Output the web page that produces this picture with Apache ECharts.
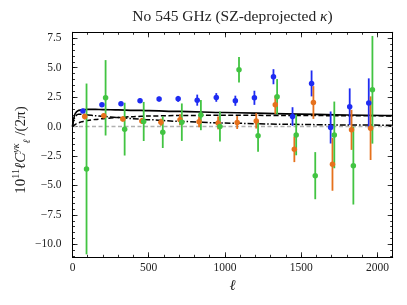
<!DOCTYPE html>
<html>
<head>
<meta charset="utf-8">
<script src="https://cdn.jsdelivr.net/npm/echarts@6/dist/echarts.min.js"></script>
<style>html,body{margin:0;padding:0;background:#fff;}#c{width:407px;height:305px;}</style>
</head>
<body>
<div id="c"></div>
<script>
// ---- data ----
const blueEll   = [68, 193, 318, 443, 568, 693, 818, 943, 1068, 1193, 1318, 1443, 1568, 1693, 1818, 1943];
const orangeEll = [80, 205, 330, 455, 580, 705, 830, 955, 1080, 1205, 1330, 1455, 1580, 1705, 1830, 1955];
const greenEll  = [92, 217, 342, 467, 592, 717, 842, 967, 1092, 1217, 1342, 1467, 1592, 1717, 1842, 1967];

const blueVal = [1.31, 1.85, 1.93, 2.19, 2.33, 2.35, 2.24, 2.47, 2.19, 2.44, 4.23, 0.85, 3.66, -0.08, 1.68, 1.99];
const blueErr = [0.15, 0.15, 0.15, 0.18, 0.2, 0.25, 0.47, 0.37, 0.43, 0.6, 0.64, 0.79, 1.1, 1.36, 1.56, 2.1];

const orangeVal = [0.85, 0.91, 0.65, 0.48, 0.37, 0.57, 0.40, 0.31, 0.34, 0.48, 1.85, -1.93, 2.04, -3.2, -0.28, -0.14];
const orangeErr = [0.25, 0.2, 0.22, 0.25, 0.3, 0.47, 0.45, 0.55, 0.55, 0.65, 0.78, 1.09, 1.39, 2.25, 1.7, 2.7];

const greenVal = [-3.6, 2.44, -0.22, 0.43, -0.48, 0.37, 0.97, 0.0, 4.82, -0.79, 2.53, -0.71, -4.17, -0.71, -3.32, 3.12];
const greenErr = [7.25, 3.2, 2.24, 1.66, 1.34, 1.59, 1.28, 1.28, 1.08, 1.35, 1.5, 1.73, 2.0, 2.83, 3.3, 4.57];

const modelEll     = [0, 5, 10, 15, 20, 30, 40, 60, 80, 100, 150, 200, 300, 400, 500, 700, 1000, 1400, 1800, 2100];
const modelSolid   = [0, 0.45, 0.8, 1.02, 1.15, 1.3, 1.37, 1.42, 1.44, 1.45, 1.45, 1.44, 1.41, 1.38, 1.35, 1.28, 1.19, 1.08, 0.98, 0.93];
const modelDashed  = [0, 0.05, 0.1, 0.15, 0.2, 0.27, 0.32, 0.4, 0.46, 0.51, 0.6, 0.67, 0.77, 0.84, 0.89, 0.94, 0.96, 0.94, 0.92, 0.9];
const modelDashDot = [0, 0.35, 0.6, 0.78, 0.88, 1.0, 1.05, 1.05, 1.02, 0.99, 0.92, 0.86, 0.76, 0.67, 0.58, 0.44, 0.29, 0.19, 0.13, 0.11];

const xMajorTicks = [0, 500, 1000, 1500, 2000];
const yMajorTicks = [-10, -7.5, -5, -2.5, 0, 2.5, 5, 7.5];
const xRange = [0, 2100];
const yRange = [-11.1, 8.0];

const titleText = 'No 545 GHz (SZ-deprojected ';
// --------------------------------------

const xMinorTicks = [];
for (let v = 0; v <= 2100; v += 100) xMinorTicks.push(v);
const yMinorTicks = [];
for (let v = -11; v <= 8.001; v += 0.5) yMinorTicks.push(Math.round(v * 10) / 10);

const FONT = 'Liberation Serif';
const COL = { blue: '#1f2cf2', orange: '#e6711c', green: '#42c442' };

function pts(ell, val) { return ell.map((e, i) => [e, val[i]]); }
function bars(ell, val, err) { return ell.map((e, i) => [e, val[i] - err[i], val[i] + err[i]]); }
function errSeries(ell, val, err, color) {
  return {
    type: 'custom', xAxisIndex: 0, yAxisIndex: 0, z: 4,
    data: bars(ell, val, err),
    encode: { x: 0, y: [1, 2] },
    renderItem: function (params, api) {
      const p1 = api.coord([api.value(0), api.value(1)]);
      const p2 = api.coord([api.value(0), api.value(2)]);
      return { type: 'line', shape: { x1: p1[0], y1: p1[1], x2: p2[0], y2: p2[1] },
               style: { stroke: color, lineWidth: 1.8 } };
    },
    silent: true
  };
}
function scatterSeries(ell, val, color) {
  return { type: 'scatter', data: pts(ell, val), symbolSize: 5.5, z: 5,
           itemStyle: { color: color, opacity: 1 }, silent: true };
}
function lineSeries(vals, type, width) {
  return { type: 'line', data: pts(modelEll, vals), showSymbol: false, symbol: 'none',
           smooth: 0.3, smoothMonotone: 'x', z: 3,
           lineStyle: { color: '#000', width: width, type: type }, silent: true };
}
const fmtY = v => (v < 0 ? '\u2212' : '') + Math.abs(v).toFixed(1);
const fmtX = v => String(Math.round(v));

function xAx(pos, major) {
  return {
    type: 'value', position: pos, min: xRange[0], max: xRange[1], gridIndex: 0,
    axisLine: { show: major, onZero: false, lineStyle: { color: '#000', width: 1 } },
    axisTick: { show: true, inside: true, length: major ? 5 : 2.5, customValues: major ? xMajorTicks : xMinorTicks,
                lineStyle: { color: '#000', width: 0.8 } },
    axisLabel: { show: major && pos === 'bottom', customValues: xMajorTicks, formatter: fmtX, fontFamily: FONT,
                 fontSize: 11.5, color: '#222', margin: 5 },
    splitLine: { show: false }
  };
}
function yAx(pos, major) {
  return {
    type: 'value', position: pos, min: yRange[0], max: yRange[1], gridIndex: 0,
    axisLine: { show: major, onZero: false, lineStyle: { color: '#000', width: 1 } },
    axisTick: { show: true, inside: true, length: major ? 5 : 2.5, customValues: major ? yMajorTicks : yMinorTicks,
                lineStyle: { color: '#000', width: 0.8 } },
    axisLabel: { show: major && pos === 'left', customValues: yMajorTicks, formatter: fmtY, fontFamily: FONT,
                 fontSize: 11.5, color: '#222', margin: 11 },
    splitLine: { show: false }
  };
}

const chart = echarts.init(document.getElementById('c'), null, { renderer: 'canvas' });
chart.setOption({
  animation: false,
  backgroundColor: '#fff',
  grid: { left: 72.5, right: 14.3, top: 32.3, bottom: 47.7, containLabel: false },
  xAxis: [xAx('bottom', true), xAx('bottom', false), xAx('top', true), xAx('top', false)],
  yAxis: [yAx('left', true), yAx('left', false), yAx('right', true), yAx('right', false)],
  series: [
    { type: 'line', data: [[xRange[0], 0], [xRange[1], 0]], showSymbol: false, symbol: 'none', z: 2,
      lineStyle: { color: '#b0b0b0', width: 1.5, type: [4, 2.5] }, silent: true },
    lineSeries(modelSolid, 'solid', 1.7),
    lineSeries(modelDashed, [5, 2.5], 1.5),
    lineSeries(modelDashDot, [6, 2, 1.5, 2], 1.5),
    errSeries(blueEll, blueVal, blueErr, COL.blue),
    scatterSeries(blueEll, blueVal, COL.blue),
    errSeries(orangeEll, orangeVal, orangeErr, COL.orange),
    scatterSeries(orangeEll, orangeVal, COL.orange),
    errSeries(greenEll, greenVal, greenErr, COL.green),
    scatterSeries(greenEll, greenVal, COL.green)
  ],
  graphic: [
    { type: 'text', x: 232.5, y: 16.5, z: 10,
      style: { text: '{n|' + titleText + '}{i|κ}{n|)}', align: 'center', verticalAlign: 'middle',
               rich: { n: { fontFamily: FONT, fontSize: 15.5, fill: '#222' },
                       i: { fontFamily: FONT, fontSize: 15.5, fontStyle: 'italic', fill: '#222' } } } },
    { type: 'text', x: 232.5, y: 286, z: 10,
      style: { text: 'ℓ', align: 'center', verticalAlign: 'middle', fontFamily: FONT, fontSize: 15,
               fontStyle: 'italic', fill: '#222' } },
    { type: 'text', x: 21, y: 150, rotation: Math.PI / 2, z: 10,
      style: { text: '{n|10}{u|11}{i|ℓC}{s|yκ}{b|ℓ}{n| /(2π)}', align: 'center', verticalAlign: 'middle',
               rich: {
                 n: { fontFamily: FONT, fontSize: 15, fill: '#222', lineHeight: 20 },
                 i: { fontFamily: FONT, fontSize: 15, fontStyle: 'italic', fill: '#222', lineHeight: 20 },
                 u: { fontFamily: FONT, fontSize: 10, fill: '#222', verticalAlign: 'top', lineHeight: 20, height: 10 },
                 s: { fontFamily: FONT, fontSize: 10, fontStyle: 'italic', fill: '#222', verticalAlign: 'top', lineHeight: 20, height: 10 },
                 b: { fontFamily: FONT, fontSize: 10, fontStyle: 'italic', fill: '#222', verticalAlign: 'bottom', lineHeight: 20, height: 8 }
               } } }
  ]
});
</script>
</body>
</html>
